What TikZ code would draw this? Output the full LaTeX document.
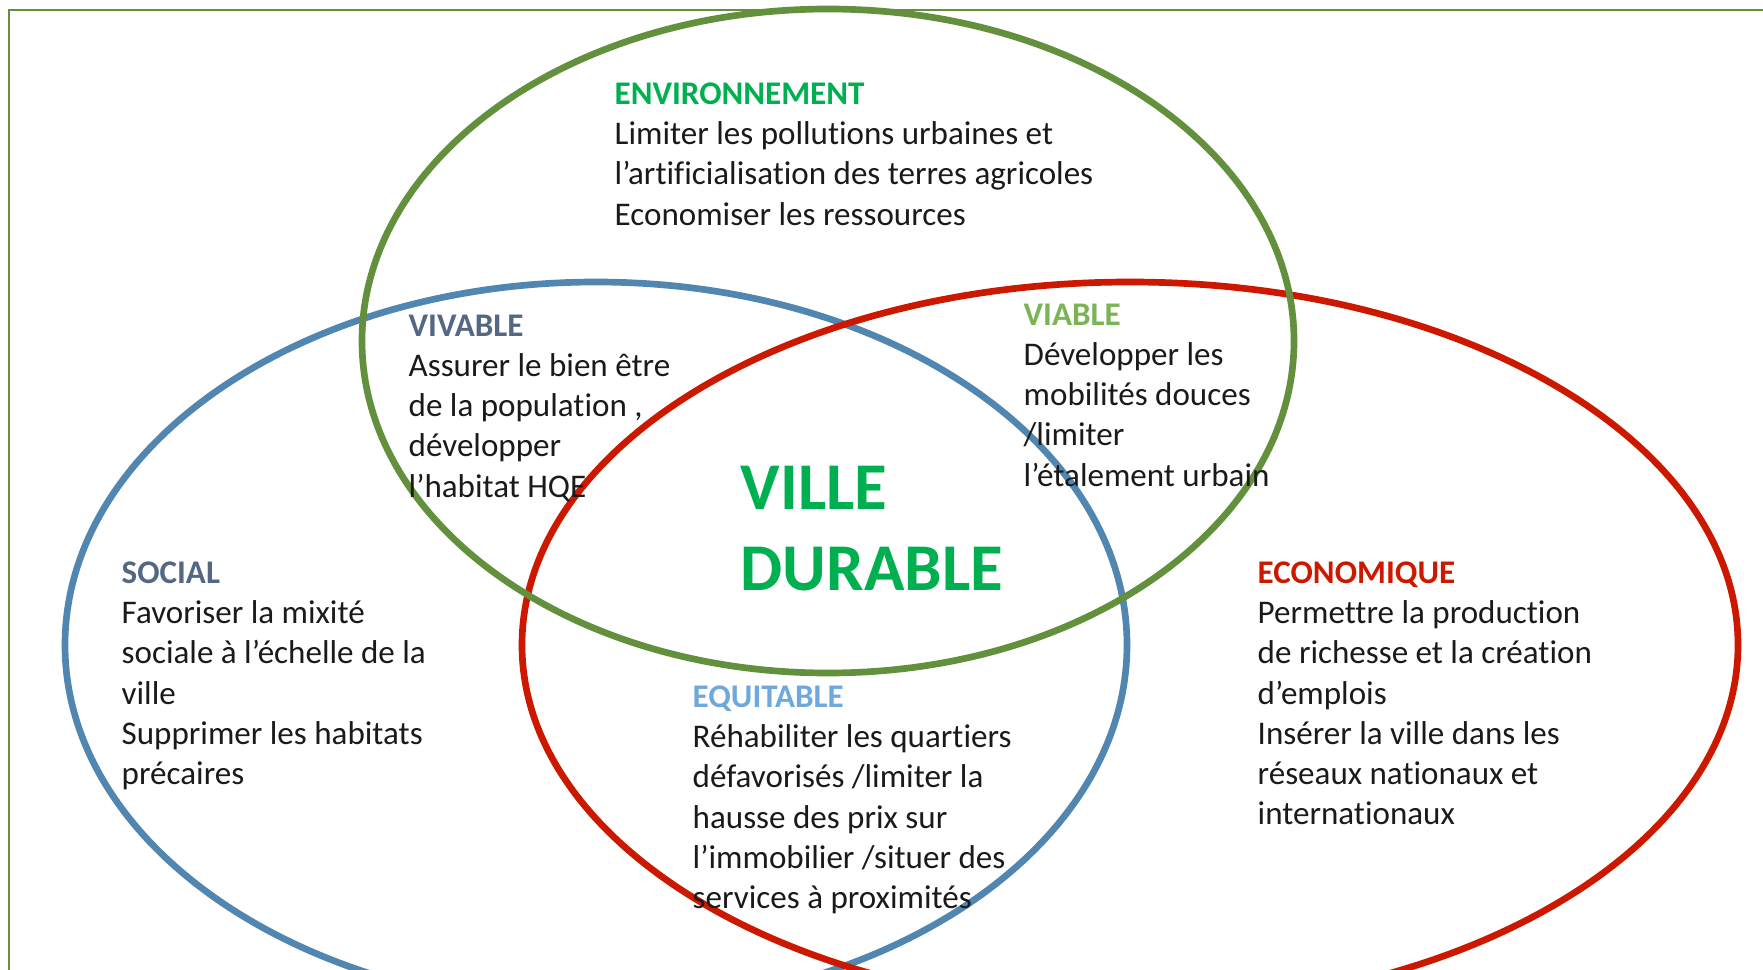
\documentclass[tikz,border=0pt]{standalone}
\usepackage{fontspec}
\setmainfont{Carlito}[RawFeature={-liga;-clig;-dlig;-calt;-rlig}]
\definecolor{envgreen}{RGB}{98,144,60}
\definecolor{socblue}{RGB}{80,134,176}
\definecolor{ecored}{RGB}{205,24,0}
\definecolor{titlegreen}{RGB}{0,176,80}
\definecolor{slate}{RGB}{84,104,134}
\definecolor{lightgreen}{RGB}{122,180,84}
\definecolor{skyblue}{RGB}{110,168,220}
\definecolor{ink}{RGB}{26,26,26}
\begin{document}
\begin{tikzpicture}[x=0.01cm,y=-0.01cm,
  sphere/.style={line width=1.9pt},
  block/.style={anchor=north west,inner sep=0pt,align=left,text=ink,
    font=\fontsize{9.4}{11.45}\selectfont},
  title/.style={anchor=north west,inner sep=0pt,align=left,text=titlegreen,
    font=\fontsize{19}{23.3}\selectfont\bfseries}
]
  \useasboundingbox (0,0) rectangle (1763,970);
  \clip (0,0) rectangle (1763,970);
  \draw[envgreen,line width=0.8pt] (9,10) rectangle (1800,1000);
  % the three spheres
  \draw[sphere,socblue] (596,645) ellipse [x radius=531,y radius=363];
  \draw[sphere,ecored] (1130,645) ellipse [x radius=608,y radius=363];
  \draw[sphere,envgreen] (828,341) ellipse [x radius=466,y radius=332];
  % texts
  \node[block] (env) at (614,82) {\textbf{\color{titlegreen}ENVIRONNEMENT}\\
    Limiter les pollutions urbaines et\\
    l’artificialisation des terres agricoles\\
    Economiser les ressources};
  \node[block] (vivable) at (408,314) {\textbf{\color{slate}VIVABLE}\\
    Assurer le bien être\\
    de la population ,\\
    développer\\
    l’habitat HQE};
  \node[block] (viable) at (1023,303) {\textbf{\color{lightgreen}VIABLE}\\
    Développer les\\
    mobilités douces\\
    /limiter\\
    l’étalement urbain};
  \node[block] (social) at (121,561) {\textbf{\color{slate}SOCIAL}\\
    Favoriser la mixité\\
    sociale à l’échelle de la\\
    ville\\
    Supprimer les habitats\\
    précaires};
  \node[block] (eco) at (1257,561) {\textbf{\color{ecored}ECONOMIQUE}\\
    Permettre la production\\
    de richesse et la création\\
    d’emplois\\
    Insérer la ville dans les\\
    réseaux nationaux et\\
    internationaux};
  \node[block] (equit) at (692,685) {\textbf{\color{skyblue}EQUITABLE}\\
    Réhabiliter les quartiers\\
    défavorisés /limiter la\\
    hausse des prix sur\\
    l’immobilier /situer des\\
    services à proximités};
  \node[title] (ville) at (740,465) {VILLE\\DURABLE};
\end{tikzpicture}
\end{document}
